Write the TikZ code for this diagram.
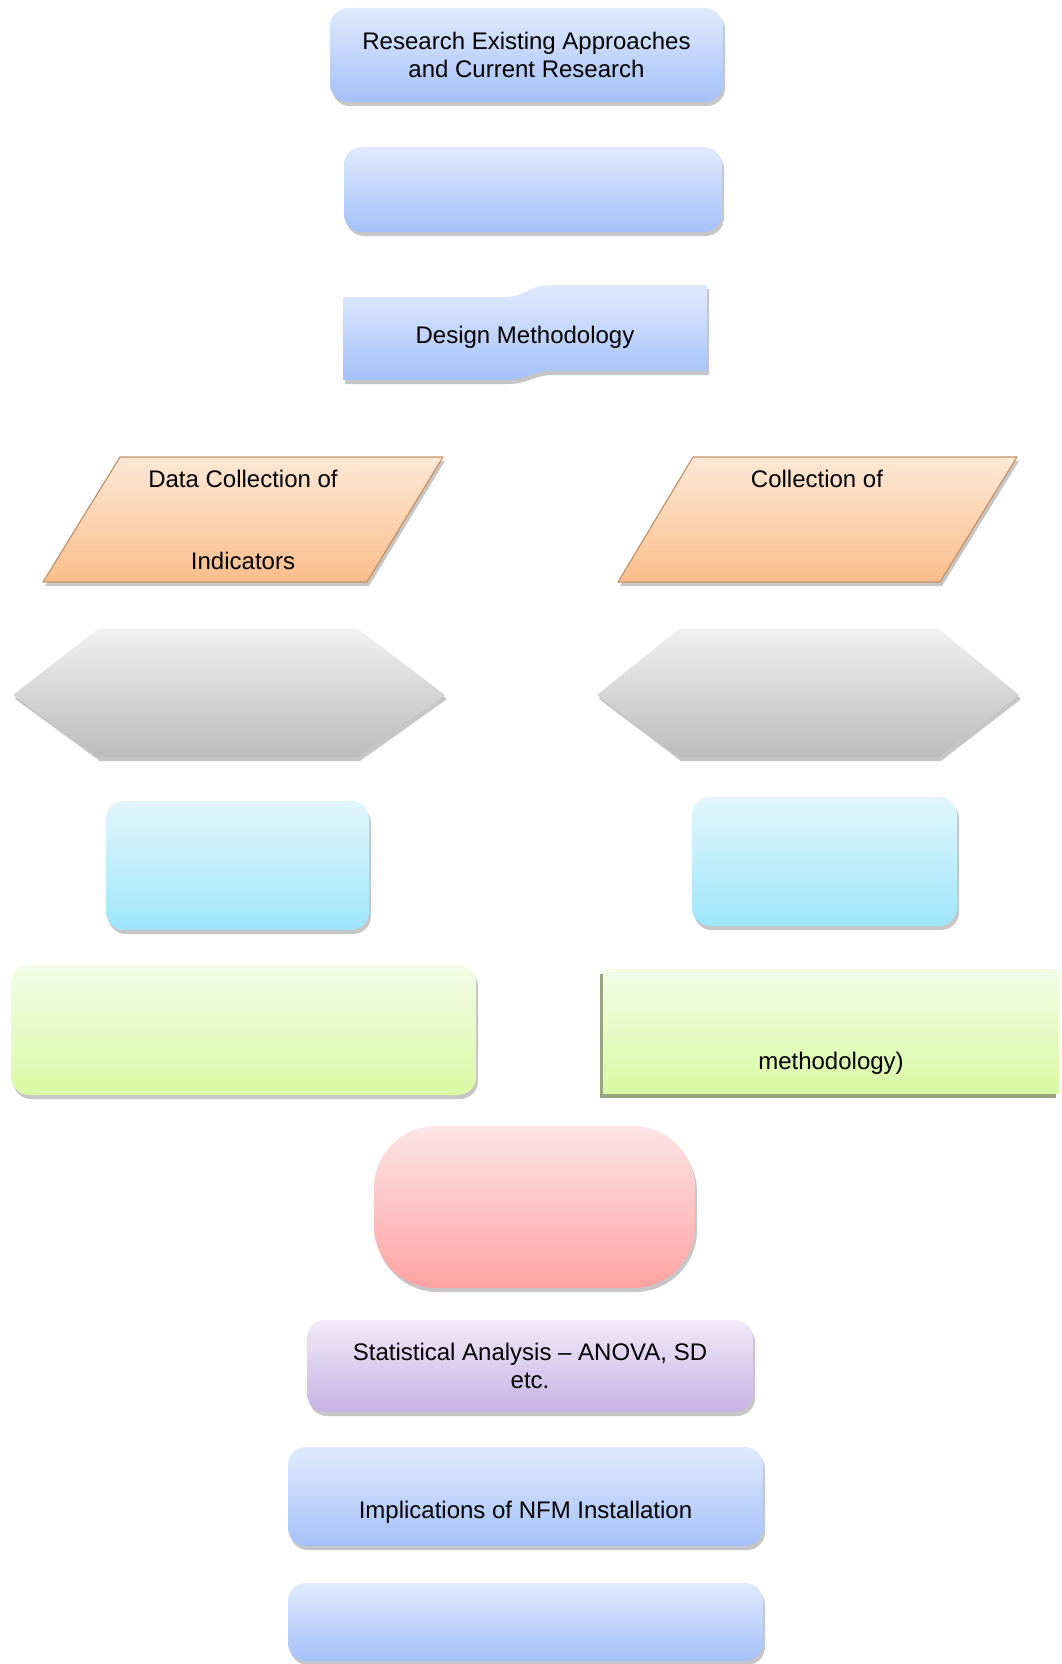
\documentclass[tikz,border=0pt]{standalone}
\usepackage{fontspec}
\setmainfont{Liberation Sans}
\usetikzlibrary{shadows}

\definecolor{blueTop}{RGB}{224,234,253}
\definecolor{blueBot}{RGB}{164,193,250}
\definecolor{orangeTop}{RGB}{253,232,214}
\definecolor{orangeBot}{RGB}{251,190,140}
\definecolor{orangeLine}{RGB}{196,146,106}
\definecolor{grayTop}{RGB}{240,240,240}
\definecolor{grayBot}{RGB}{188,188,188}
\definecolor{cyanTop}{RGB}{226,246,252}
\definecolor{cyanBot}{RGB}{158,230,251}
\definecolor{greenTop}{RGB}{244,252,232}
\definecolor{greenBot}{RGB}{217,250,164}
\definecolor{greenShade}{RGB}{140,156,112}
\definecolor{pinkTop}{RGB}{253,229,229}
\definecolor{pinkBot}{RGB}{255,162,162}
\definecolor{purpleTop}{RGB}{241,233,249}
\definecolor{purpleBot}{RGB}{200,178,228}

\begin{document}
\begin{tikzpicture}[x=1pt, y=-1pt,
    every node/.style = {align=center, inner sep=0pt, font=\fontsize{24}{27.5}\selectfont},
    softshadow/.style = {drop shadow={shadow xshift=2pt, shadow yshift=-4pt, opacity=0.45}},
    box/.style = {rounded corners=18pt, softshadow},
    bluebox/.style = {box, top color=blueTop, bottom color=blueBot},
    cyanbox/.style = {box, top color=cyanTop, bottom color=cyanBot},
    greenbox/.style = {box, top color=greenTop, bottom color=greenBot},
    purplebox/.style = {box, top color=purpleTop, bottom color=purpleBot},
    pinkbox/.style = {softshadow, rounded corners=62pt, top color=pinkTop, bottom color=pinkBot},
    flatgreen/.style = {top color=greenTop, bottom color=greenBot,
        drop shadow={shadow xshift=-3pt, shadow yshift=-5pt, fill=greenShade, opacity=0.9}},
    orangeshape/.style = {top color=orangeTop, bottom color=orangeBot, draw=orangeLine,
        line width=1.2pt, line join=round, softshadow},
    grayshape/.style = {top color=grayTop, bottom color=grayBot, softshadow}]

\useasboundingbox (0,0) rectangle (1061,1664);

\node[bluebox, minimum width=393pt, minimum height=94pt] (A) at (526.5,55)
    {Research Existing Approaches\\and Current Research};
\node[bluebox, minimum width=378pt, minimum height=85pt] (B) at (533,189.5) {};

\path[bluebox, rounded corners=0pt]
    (343,297) -- (505,297) .. controls (526,297) and (528,285) .. (550,285)
    -- (707,285) -- (707,371) -- (552,371) .. controls (530,371) and (528,380) .. (505,380)
    -- (343,380) -- cycle;
\node (C) at (525,337) {Design Methodology};

\path[orangeshape] (120,457) -- (443,457) -- (367,582) -- (43,582) -- cycle;
\node (D) at (243,520) {Data Collection of\\\strut\\\strut\\Indicators};
\path[orangeshape] (693,457) -- (1017,457) -- (940,582) -- (618,582) -- cycle;
\node (E) at (817,520) {Collection of\\\strut\\\strut\\\vphantom{Indicators}};

\path[grayshape] (98,629) -- (358,629) -- (445,695) -- (358,757) -- (98,757) -- (13,695) -- cycle;
\path[grayshape] (679,629) -- (939,629) -- (1019,695) -- (939,757) -- (679,757) -- (597,695) -- cycle;

\node[cyanbox, minimum width=263pt, minimum height=129pt] (F) at (237.5,865.5) {};
\node[cyanbox, minimum width=265pt, minimum height=129pt] (G) at (824.5,861.5) {};

\node[greenbox, minimum width=465pt, minimum height=130pt] (H) at (243.5,1030) {};
\node[flatgreen, minimum width=456pt, minimum height=124pt] (I) at (831,1031)
    {\strut\\\strut\\[10pt]methodology)\strut};

\node[pinkbox, minimum width=321pt, minimum height=162pt] (J) at (534.5,1207) {};

\node[purplebox, minimum width=446pt, minimum height=92pt] (K) at (530,1366)
    {Statistical Analysis -- ANOVA, SD\\etc.};
\node[bluebox, minimum width=475pt, minimum height=99pt] (L) at (525.5,1496.5)
    {\strut\\[6pt]Implications of NFM Installation\strut};
\node[bluebox, minimum width=475pt, minimum height=78pt] (M) at (525.5,1622) {};

\end{tikzpicture}
\end{document}
